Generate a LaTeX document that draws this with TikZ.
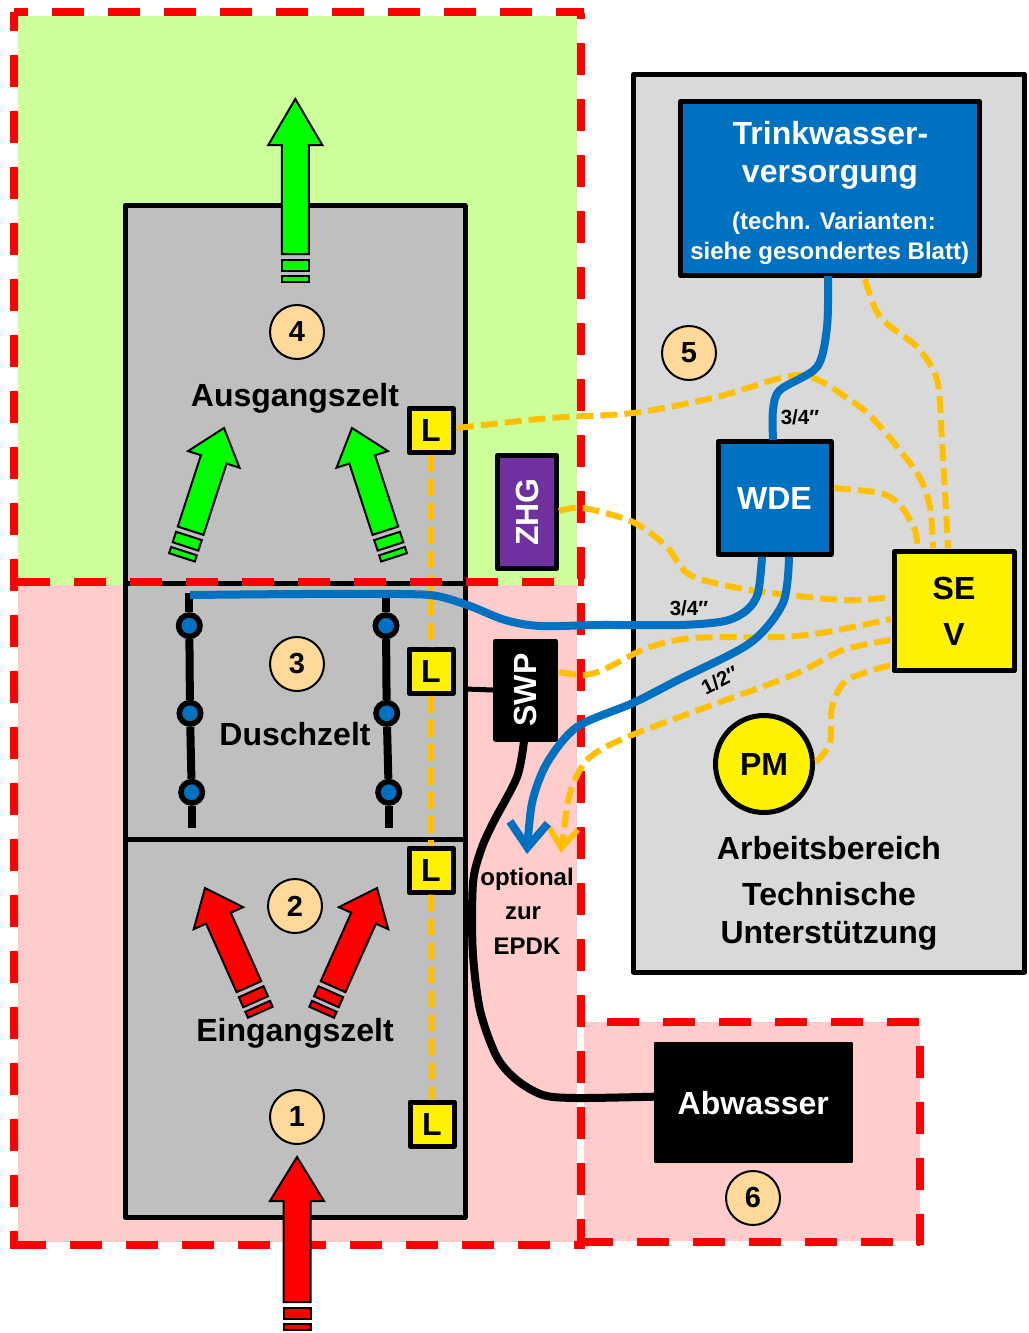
\documentclass[tikz,border=0pt]{standalone}
\usepackage{fontspec}
\setmainfont{Liberation Sans}
\usetikzlibrary{arrows.meta}
\definecolor{zonegreen}{HTML}{CCFF99}
\definecolor{zonered}{HTML}{FFCCCC}
\definecolor{tentgray}{HTML}{BFBFBF}
\definecolor{workgray}{HTML}{D9D9D9}
\definecolor{pipeblue}{HTML}{0070C0}
\definecolor{wireorange}{HTML}{FFC000}
\definecolor{zhgpurple}{HTML}{7030A0}
\definecolor{numberfill}{HTML}{FFD999}
\tikzset{
	box/.style={shape=rectangle,draw=black,line width=5pt,line join=round,inner sep=0pt,font=\bfseries\fontsize{32}{38}\selectfont},
	lamp/.style={box,fill=yellow,minimum width=44pt,minimum height=44pt},
	number/.style={shape=circle,draw=black,line width=2pt,fill=numberfill,minimum size=54pt,inner sep=0pt,font=\bfseries\fontsize{29}{34}\selectfont},
	shower/.style={shape=circle,draw=black,line width=5.5pt,fill=pipeblue,minimum size=21.5pt,inner sep=0pt},
	label/.style={anchor=base,inner sep=0pt,font=\bfseries\fontsize{32}{38}\selectfont},
	smalllabel/.style={anchor=base,inner sep=0pt,font=\bfseries\fontsize{24}{28}\selectfont},
	sizelabel/.style={anchor=base,inner sep=0pt,font=\bfseries\fontsize{20.5}{24}\selectfont},
	zone/.style={draw=red,line width=8pt,dash pattern=on 32pt off 24pt},
	wire/.style={draw=wireorange,line width=6pt,dash pattern=on 17pt off 7pt},
	pipe/.style={draw=pipeblue,line width=8pt},
	rail/.style={draw=black,line width=8pt}
}
\newcommand{\flowarrow}[6]{
	\begin{scope}[shift={(#1,#2)},rotate=#3]
		\draw[black,line width=2pt,line join=miter,fill=#6] (0,0) -- (27,#4) -- (13.5,#4) -- (13.5,#5) -- (-13.5,#5) -- (-13.5,#4) -- (-27,#4) -- cycle;
		\draw[black,line width=2pt,fill=#6] (-13.5,#5+5.5) rectangle (13.5,#5+16.5);
		\draw[black,line width=2pt,fill=#6] (-13.5,#5+21.5) rectangle (13.5,#5+28);
	\end{scope}
}
\begin{document}
\begin{tikzpicture}[x=1pt,y=-1pt]
	\useasboundingbox (0,0) rectangle (1028,1333);

	\fill[zonegreen] (18.3,16) rectangle (577,585);
	\fill[zonered] (18.3,585) rectangle (577,1241.7);
	\fill[zonered] (584,1022) rectangle (920,1241);

	\draw[black,line width=5pt,line join=round,fill=tentgray] (125,205.5) rectangle (465,1217);
	\draw[black,line width=5pt] (125,583) -- (465,583);
	\draw[black,line width=5pt] (125,839) -- (465,839);
	\draw[black,line width=5pt,line join=round,fill=workgray] (633.3,74.5) rectangle (1024.8,972);

	\node[lamp] (la) at (431,430) {L};
	\node[lamp] (lb) at (431,671) {L};
	\node[lamp] (lc) at (431,870) {L};
	\node[lamp] (ld) at (432,1124) {L};

	\path[wire] (la) -- (lb);
	\path[wire] (lb) -- (lc);
	\path[wire] (lc) -- (ld);

	\path[zone,dash phase=18.3pt] (14.3,12) -- (584.3,12);
	\path[zone,dash phase=13pt] (14.3,12) -- (14.3,1249);
	\path[zone] (18.3,582) -- (584.3,582);
	\path[zone] (14.3,1245) -- (584.3,1245);
	\path[zone,dash phase=26pt] (580.5,13) -- (580.5,1249);
	\path[zone,dash phase=29.5pt] (580.5,1022) -- (920,1022);
	\path[zone,dash phase=32pt] (920,1022) -- (920,1245);
	\path[zone] (580.5,1241.5) -- (920,1241.5);

	\node[box,fill=pipeblue,minimum width=298.4pt,minimum height=174.3pt] (tw) at (830,188.7) {};
	\node[box,fill=pipeblue,minimum width=113pt,minimum height=113pt,text=white] (wde) at (774.5,498) {WDE};
	\node[box,fill=yellow,minimum width=120pt,minimum height=119pt] (sev) at (954.2,611.3) {};
	\node[box,fill=zhgpurple,minimum width=59pt,minimum height=113pt] (zhg) at (527,512) {\rotatebox{90}{\textcolor{white}{ZHG}}};
	\node[box,fill=black,minimum width=60pt,minimum height=98pt] (swp) at (525.5,690) {\rotatebox{90}{\textcolor{white}{SWP}}};
	\node[box,fill=black,line width=2pt,minimum width=197.3pt,minimum height=119.6pt] (abw) at (753.3,1102.5) {};
	\node[box,shape=circle,fill=yellow,minimum size=97pt] (pm) at (764,764) {PM};

	\node[number] (na) at (297,1117) {1};
	\node[number] (nb) at (295,906) {2};
	\node[number] (nc) at (297,664) {3};
	\node[number] (nd) at (297,332) {4};
	\node[number] (ne) at (689,353) {5};
	\node[number] (nf) at (753,1198) {6};

	\flowarrow{295.3}{99}{0}{46}{155}{green}
	\flowarrow{224}{428}{-18}{33}{108}{green}
	\flowarrow{352}{428}{18}{33}{108}{green}
	\flowarrow{205}{888}{24}{33}{108}{red}
	\flowarrow{377}{888}{-24}{33}{108}{red}
	\flowarrow{297}{1157}{0}{44}{145}{red}

	\node[shower] (sa) at (189.3,625.7) {};
	\node[shower] (sb) at (190,713.3) {};
	\node[shower] (sc) at (191.7,792.3) {};
	\node[shower] (sd) at (386,625.7) {};
	\node[shower] (se) at (386.7,713.3) {};
	\node[shower] (sf) at (388.7,792.3) {};
	\coordinate (ra) at (189.3,593);
	\coordinate (rb) at (191.7,827.7);
	\coordinate (rc) at (386,593);
	\coordinate (rd) at (388.7,827.7);

	\path[rail] (ra) -- (sa);
	\path[rail] (sa) -- (sb);
	\path[rail] (sb) -- (sc);
	\path[rail] (sc) -- (rb);
	\path[rail] (rc) -- (sd);
	\path[rail] (sd) -- (se);
	\path[rail] (se) -- (sf);
	\path[rail] (sf) -- (rd);

	\coordinate (wm) at (457,428);
	\coordinate (wa) at (559,511);
	\coordinate (wb) at (559,672);
	\coordinate (wc) at (865,279);
	\coordinate (wd) at (917,548);
	\coordinate (we) at (933,548);
	\coordinate (wf) at (948,548);
	\coordinate (wg) at (891,597);
	\coordinate (wh) at (891,619);
	\coordinate (wi) at (891,640);
	\coordinate (wj) at (891,665);
	\coordinate (wk) at (561,853);
	\coordinate (wl) at (834,488);
	\coordinate (wn) at (816,762);

	\path[wire] plot[smooth] coordinates {(wm) (550,418) (633,413) (717,397) (800,375) (850,400) (877,423) (917,473) (930,507) (we)};
	\path[wire] plot[smooth] coordinates {(wc) (880,317) (917,347) (937,380) (942,440) (wf)};
	\path[wire] plot[smooth] coordinates {(wl) (880,493) (900,505) (915,530) (wd)};
	\path[wire] plot[smooth] coordinates {(wa) (583,508) (633,522) (667,547) (690,575) (750,590) (843,600) (wg)};
	\path[wire] plot[smooth] coordinates {(wb) (583,675) (603,670) (647,648) (693,638) (780,637) (827,632) (wh)};
	\path[wire,-{Straight Barb[length=20pt,width=29pt,line width=5.5pt]}] plot[smooth] coordinates {(wi) (843,650) (793,675) (693,712) (620,740) (587,760) (570,793) (563,837) (wk)};
	\path[wire] plot[smooth] coordinates {(wn) (830,743) (832,707) (847,680) (wj)};

	\coordinate (pa) at (828,276);
	\coordinate (pb) at (773,440);
	\coordinate (pc) at (190,595);
	\coordinate (pd) at (762,557);
	\coordinate (pe) at (789,557);
	\coordinate (pf) at (527,854);

	\path[pipe] plot[smooth] coordinates {(pa) (827,327) (817,367) (780,390) (773,410) (pb)};
	\path[pipe] plot[smooth] coordinates {(pc) (300,594) (400,594) (437,596) (470,606) (505,620) (540,626) (600,625) (680,625) (725,621) (747,610) (758,593) (pd)};
	\path[pipe,-{Straight Barb[length=25pt,width=38pt,line width=8pt]}] plot[smooth] coordinates {(pe) (783,603) (750,643) (678,680) (633,703) (577,727) (547,763) (532,803) (pf)};

	\coordinate (ka) at (524,741);
	\coordinate (kb) at (654,1096.7);

	\draw[black,line width=5pt] (465,689) -- (swp.west);
	\draw[black,line width=8pt] plot[smooth] coordinates {(ka) (517,777) (493,823) (481,850) (473,883) (472.7,950) (480,1010) (496.7,1056.7) (516.7,1080) (543,1095) (576.7,1098) (kb)};

	\node[label,text=white] (ta) at (830.5,144) {Trinkwasser-};
	\node[label,text=white] (tb) at (830,182.7) {versorgung};
	\node[smalllabel,text=white] (tc) at (834,229.3) {(techn. Varianten:};
	\node[smalllabel,text=white] (td) at (829.7,259.3) {siehe gesondertes Blatt)};
	\node[label] (sea) at (954,599) {SE};
	\node[label] (seb) at (954,645) {V};
	\node[label,text=white] (abt) at (753.3,1114) {Abwasser};
	\node[label] (aus) at (295,406) {Ausgangszelt};
	\node[label] (dus) at (295,745) {Duschzelt};
	\node[label] (ein) at (295,1041.7) {Eingangszelt};
	\node[label] (aa) at (829,859) {Arbeitsbereich};
	\node[label] (ab) at (829,905) {Technische};
	\node[label] (ac) at (829,943) {Unterstützung};
	\node[smalllabel] (oa) at (527,885) {optional};
	\node[smalllabel] (ob) at (523,919) {zur};
	\node[smalllabel] (oc) at (527,954) {EPDK};
	\node[sizelabel] (qa) at (800,424) {3/4″};
	\node[sizelabel] (qb) at (689,615.7) {3/4″};
	\node[sizelabel,rotate=27] (qc) at (723,687) {1/2″};
\end{tikzpicture}
\end{document}
